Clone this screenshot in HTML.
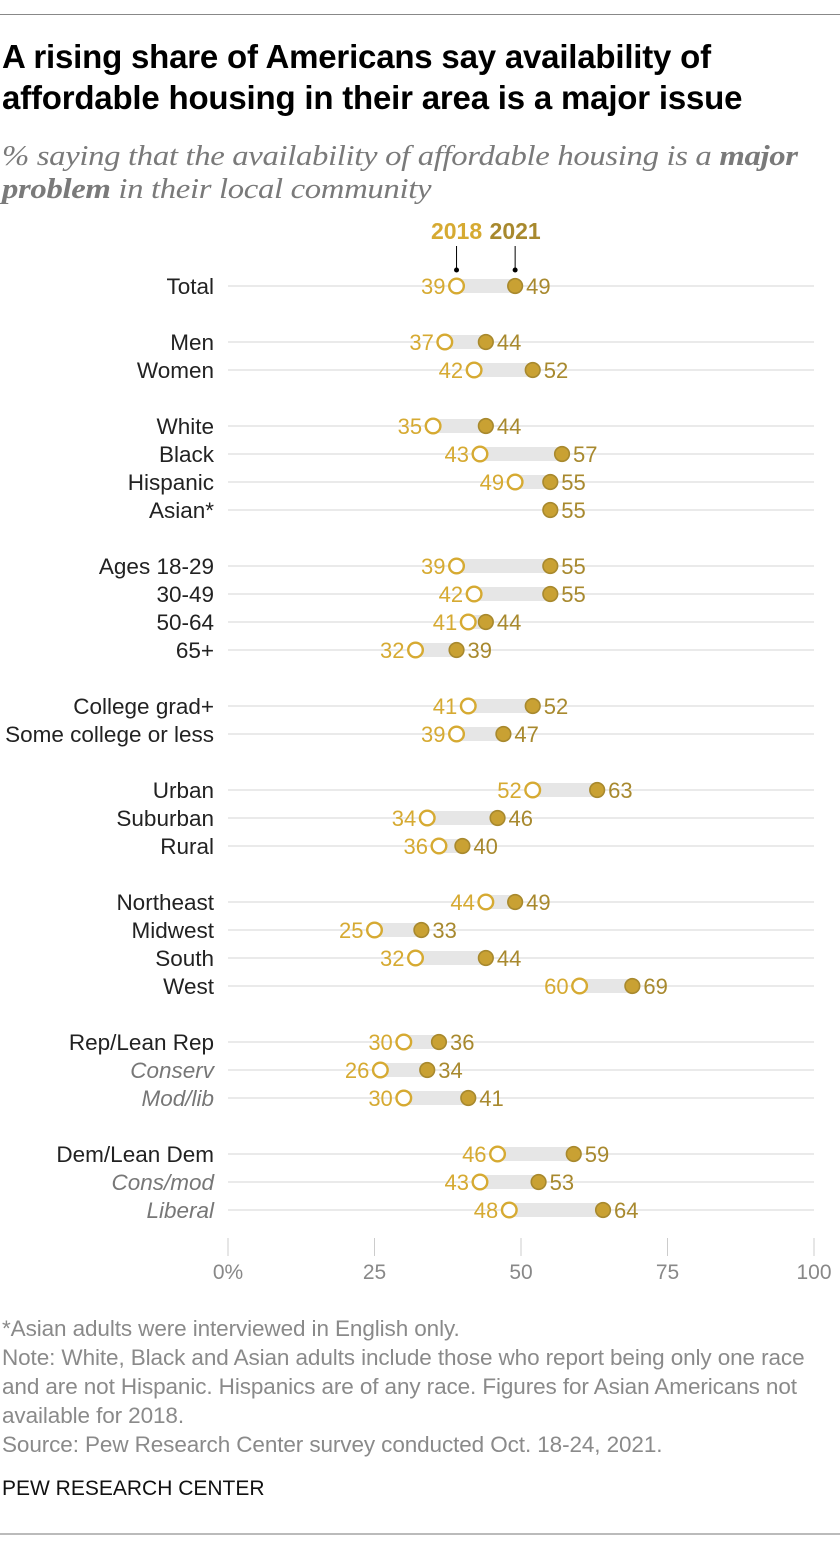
<!DOCTYPE html>
<html><head><meta charset="utf-8">
<style>
body{margin:0;background:#fff;width:840px;height:1544px;position:relative;overflow:hidden;font-family:"Liberation Sans",sans-serif;}
.abs{position:absolute;}
#title{left:2px;top:36px;font-size:33px;font-weight:bold;line-height:41px;color:#000;letter-spacing:-0.2px}
#sub{left:2px;top:140px;font-family:"Liberation Serif",serif;font-style:italic;font-size:28px;line-height:33px;color:#7a7a7a;letter-spacing:-0.3px;transform:scaleX(1.17);transform-origin:0 0;white-space:nowrap}
.foot{left:2px;font-size:22.5px;color:#8a8a8a;line-height:29px;letter-spacing:-0.1px}
</style></head><body>
<div class="abs" style="left:0;top:14px;width:840px;height:1px;background:#888"></div>
<div id="title" class="abs">A rising share of Americans say availability of<br>affordable housing in their area is a major issue</div>
<div id="sub" class="abs">% saying that the availability of affordable housing is a <b>major</b><br><b>problem</b> in their local community</div>
<svg id="chart" class="abs" style="left:0;top:0" width="840" height="1300"></svg>
<div class="abs foot" style="top:1314px">*Asian adults were interviewed in English only.<br>Note: White, Black and Asian adults include those who report being only one race<br>and are not Hispanic. Hispanics are of any race. Figures for Asian Americans not<br>available for 2018.<br>Source: Pew Research Center survey conducted Oct. 18-24, 2021.</div>
<div class="abs" style="left:2px;top:1477px;font-size:21px;color:#111">PEW RESEARCH CENTER</div>
<div class="abs" style="left:0;top:1533px;width:840px;height:2px;background:#bbb"></div>
<script>
const categories=["Total","Men","Women","White","Black","Hispanic","Asian*","Ages 18-29","30-49","50-64","65+","College grad+","Some college or less","Urban","Suburban","Rural","Northeast","Midwest","South","West","Rep/Lean Rep","Conserv","Mod/lib","Dem/Lean Dem","Cons/mod","Liberal"];
const groups=[0,1,1,2,2,2,2,3,3,3,3,4,4,5,5,5,6,6,6,6,7,7,7,8,8,8];
const italicRows=["Conserv","Mod/lib","Cons/mod","Liberal"];
const values2018=[39,37,42,35,43,49,null,39,42,41,32,41,39,52,34,36,44,25,32,60,30,26,30,46,43,48];
const values2021=[49,44,52,44,57,55,55,55,55,44,39,52,47,63,46,40,49,33,44,69,36,34,41,59,53,64];
const ticks=[0,25,50,75,100];
const tickLabels=["0%","25","50","75","100"];
const svg=document.getElementById('chart');
const NS="http://www.w3.org/2000/svg";
const x=v=>228+v*5.86;
const yRow=i=>286+i*28+groups[i]*28;
function mk(tag,attrs,parent){const e=document.createElementNS(NS,tag);for(const k in attrs)e.setAttribute(k,attrs[k]);(parent||svg).appendChild(e);return e;}
const C18="#d6aa32",C21="#a8892e",F21="#c9a133";
const FONT='"Liberation Sans",sans-serif';
ticks.forEach((t,i)=>{
 const l=mk('line',{x1:x(t),x2:x(t),y1:1238,y2:1256,stroke:'#ccc','stroke-width':1});
 
 
 const tx=mk('text',{x:x(t),y:1279,'text-anchor':'middle','font-size':21,fill:'#888','font-family':FONT});
 tx.textContent=tickLabels[i];
 
 
});
categories.forEach((c,i)=>{
 const y=yRow(i);
 const g=mk('g',{});
 
 
 mk('line',{x1:228,x2:814,y1:y,y2:y,stroke:'#d6d6d6','stroke-width':1},g);
 const lab=mk('text',{x:214,y:y+8,'text-anchor':'end','font-size':22.5,fill:italicRows.includes(c)?'#777':'#222','font-style':italicRows.includes(c)?'italic':'normal','font-family':FONT},g);
 lab.textContent=c;
 
 
 const a=values2018[i],b=values2021[i];
 if(a!==null){
  const bar=mk('rect',{x:x(Math.min(a,b)),y:y-7,width:Math.abs(x(b)-x(a)),height:14,fill:'#e6e6e6'},g);
  
  
 }
 if(a!==null){
  const d=mk('circle',{cx:x(a),cy:y,r:7.3,fill:'#fff',stroke:C18,'stroke-width':2.4},g);
  
  
  const t=mk('text',{x:x(a)-11,y:y+8,'text-anchor':'end','font-size':22,fill:C18,'font-family':FONT},g);
  t.textContent=a;
  
  
 }
 const d2=mk('circle',{cx:x(b),cy:y,r:7.3,fill:F21,stroke:C21,'stroke-width':1.6},g);
 
 
 const t2=mk('text',{x:x(b)+11,y:y+8,'font-size':22,fill:C21,'font-family':FONT},g);
 t2.textContent=b;
 
 
});
[[values2018[0],'2018',C18],[values2021[0],'2021',C21]].forEach(([v,l,c])=>{
 const t=mk('text',{x:x(v),y:239,'text-anchor':'middle','font-size':23,'font-weight':'bold',fill:c,'font-family':FONT});
 t.textContent=l;
 
 
 const ln=mk('line',{x1:x(v),x2:x(v),y1:246,y2:268,stroke:'#000','stroke-width':1});
 
 
 const dt=mk('circle',{cx:x(v),cy:270,r:2.5,fill:'#000'});
 
 
});
</script>
</body></html>
